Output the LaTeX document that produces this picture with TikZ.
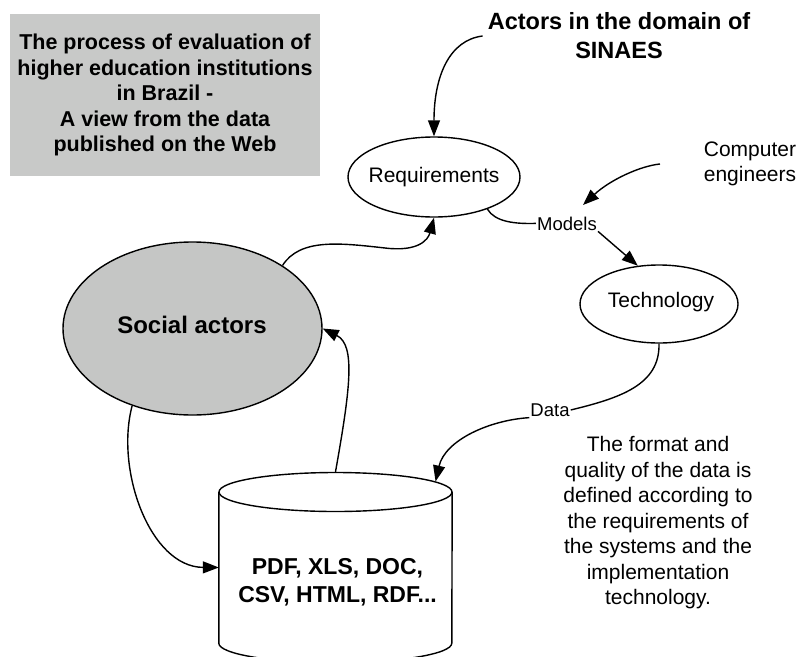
\documentclass[tikz,border=0pt]{standalone}
\usepackage{fontspec}
\setmainfont{Liberation Sans}
\usetikzlibrary{shapes.geometric,arrows.meta}
\definecolor{boxgray}{RGB}{200,201,200}
\definecolor{ellgray}{RGB}{197,198,197}
\begin{document}
\begin{tikzpicture}[x=1pt,y=-1pt,
  conn/.style={line width=1.4pt, -{Triangle[length=16pt,width=12pt]}},
  plainline/.style={line width=1.4pt},
  oval/.style={ellipse, draw, line width=1.4pt, inner sep=0pt},
  normtext/.style={font=\fontsize{21}{25.5}\selectfont, inner sep=0pt, align=center},
  smalltext/.style={font=\fontsize{18.5}{22}\selectfont, inner sep=1pt}]
\useasboundingbox (0,0) rectangle (800,656);

% title box
\node[fill=boxgray, minimum width=310pt, minimum height=162pt, inner sep=0pt, align=center,
      font=\bfseries\fontsize{21.5}{25.5}\selectfont] (title) at (165,95)
  {The process of evaluation of\\higher education institutions\\in Brazil -\\A view from the data\\published on the Web};

% actors
\node[font=\bfseries\fontsize{23.5}{29}\selectfont, align=center, inner sep=0pt] (actors) at (619,36)
  {Actors in the domain of\\SINAES};

% requirements
\node[oval, minimum width=172pt, minimum height=80pt] (req) at (434,177) {};
\node[normtext] (reqtext) at (434,177.5) {Requirements};

% technology
\node[oval, minimum width=158pt, minimum height=78pt] (tech) at (659,304) {};
\node[normtext] (techtext) at (661,302) {Technology};

% social actors
\node[oval, fill=ellgray, minimum width=259pt, minimum height=173pt] (social) at (192.5,328.5) {};
\node[font=\bfseries\fontsize{24}{29}\selectfont, inner sep=0pt] (socialtext) at (192,325) {Social actors};

% computer engineers
\node[normtext] (ce) at (750,164) {Computer\\engineers};
\coordinate (ceStart) at (660,164);
\coordinate (ceEnd) at (583,205);

% labels
\node[smalltext] (models) at (567,223.4) {Models};
\node[smalltext] (data) at (550,410) {Data};

% note
\node[normtext] (note) at (658,523)
  {The format and\\quality of the data is\\defined according to\\the requirements of\\the systems and the\\implementation\\technology.};

% cylinder
\node[inner sep=0pt, minimum width=233pt, minimum height=151pt] (cylbody) at (335.5,567.5) {};
\draw[plainline] (cylbody.north west) -- (cylbody.south west)
  arc[start angle=180, end angle=360, x radius=116.5pt, y radius=19.5pt] -- (cylbody.north east);
\node[oval, fill=white, minimum width=233pt, minimum height=39pt] (cyltop) at (335.5,492) {};
\node[font=\bfseries\fontsize{23}{28}\selectfont, align=center, inner sep=0pt] (cyltext) at (337.5,582.5)
  {PDF, XLS, DOC,\\CSV, HTML, RDF...};

% connectors
\draw[conn] ([xshift=-5pt]actors.west) .. controls (450,40) and (434,75) .. (req.north);
\draw[conn] (ceStart) .. controls (640,166) and (610,180) .. (ceEnd);
\draw[plainline] (req.-31) .. controls (495,222) and (515,224) .. (models.west);
\draw[conn] (models.south east) -- (tech.119);
\draw[conn] (social.35) .. controls (300,238) and (340,243) .. (385,248)
  .. controls (418,252) and (428,240) .. (req.south);
\draw[plainline] (tech.south) .. controls (660,385) and (620,398) .. (data.east);
\draw[conn] (data.south west) .. controls (490,420) and (445,440) .. (cyltop.6);
\draw[conn] (cyltop.north) .. controls (350,390) and (356,345) .. (social.east);
\draw[conn] (social.-128) .. controls (115,470) and (150,567) .. (cylbody.west);
\end{tikzpicture}
\end{document}
